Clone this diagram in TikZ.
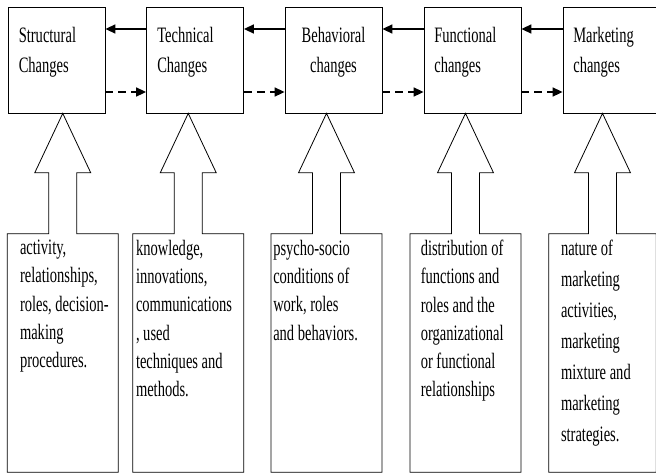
\documentclass[tikz,border=0pt]{standalone}
\usepackage{fontspec}
\setmainfont{Liberation Serif}[FakeStretch=0.66]
\usepackage{tikz}
\usetikzlibrary{arrows.meta}

\begin{document}
\begin{tikzpicture}[x=1pt, y=-1pt,
    cbox/.style={draw, line width=0.8pt, minimum width=97pt, minimum height=106pt, inner sep=0pt},
    dbox/.style={minimum width=110.5pt, minimum height=238pt, inner sep=0pt},
    ctext/.style={anchor=north west, inner sep=0pt, align=left, font=\fontsize{22}{30.5}\selectfont},
    dtext/.style={anchor=north west, inner sep=0pt, align=left, font=\fontsize{22}{28.3}\selectfont},
    back/.style={line width=1.6pt, -{Triangle[length=10pt,width=9pt]}},
    fwd/.style={line width=1.6pt, dash pattern=on 8pt off 5pt, -{Triangle[length=10pt,width=9pt]}}]
    \useasboundingbox (0,0) rectangle (656,474);

    % the five kinds of change
    \node[cbox] (c1) at (56.5,60) {};
    \node[cbox] (c2) at (195,60) {};
    \node[cbox] (c3) at (333.5,60) {};
    \node[cbox] (c4) at (472.5,60) {};
    \node[cbox] (c5) at (611.5,60) {};

    \node[ctext] (t1) at ([xshift=11pt,yshift=-20pt]c1.north west) {Structural\\Changes};
    \node[ctext] (t2) at ([xshift=11pt,yshift=-20pt]c2.north west) {Technical\\Changes};
    \node[ctext, anchor=north, align=center] (t3) at ([yshift=-20pt]c3.north) {Behavioral\\changes};
    \node[ctext] (t4) at ([xshift=10.5pt,yshift=-20pt]c4.north west) {Functional\\changes};
    \node[ctext] (t5) at ([xshift=10.5pt,yshift=-20pt]c5.north west) {Marketing\\changes};

    % what each one touches
    \node[dbox] (d1) at (62.75,353) {};
    \node[dbox] (d2) at (188.25,353) {};
    \node[dbox] (d3) at (326.5,353) {};
    \node[dbox] (d4) at (465.5,353) {};
    \node[dbox, minimum width=107pt] (d5) at (602.5,353) {};

    \node[dtext] (s1) at ([xshift=12.5pt,yshift=-6pt]d1.north west) {activity,\\relationships,\\roles, decision-\\making\\procedures.};
    \node[dtext] (s2) at ([xshift=3pt,yshift=-6pt]d2.north west) {knowledge,\\innovations,\\communications\\, used\\techniques and\\methods.};
    \node[dtext] (s3) at ([xshift=2pt,yshift=-6pt]d3.north west) {psycho-socio\\conditions of\\work, roles\\and behaviors.};
    \node[dtext] (s4) at ([xshift=10.5pt,yshift=-6pt]d4.north west) {distribution of\\functions and\\roles and the\\organizational\\or functional\\relationships};
    \node[dtext, font=\fontsize{22}{31}\selectfont] (s5) at ([xshift=12pt,yshift=-6pt]d5.north west) {nature of\\marketing\\activities,\\marketing\\mixture and\\marketing\\strategies.};

    % block arrows up into the boxes
    \foreach \i in {1,...,5}
      \draw[line width=0.8pt] (d\i.north west) -- ([xshift=-14pt]d\i.north) -- ++(0pt,61pt) -- ++(-14pt,0pt)
        -- (d\i.north |- c\i.south) -- ([xshift=28pt,yshift=61pt]d\i.north) -- ++(-14pt,0pt)
        -- ([xshift=14pt]d\i.north) -- (d\i.north east) -- (d\i.south east) -- (d\i.south west) -- cycle;

    \draw[back] ([yshift=31pt]c2.west) -- ([yshift=31pt]c1.east);
    \draw[back] ([yshift=31pt]c3.west) -- ([yshift=31pt]c2.east);
    \draw[back] ([yshift=31pt]c4.west) -- ([yshift=31pt]c3.east);
    \draw[back] ([yshift=31pt]c5.west) -- ([yshift=31pt]c4.east);

    \draw[fwd] ([yshift=-32pt]c1.east) -- ([yshift=-32pt]c2.west);
    \draw[fwd] ([yshift=-32pt]c2.east) -- ([yshift=-32pt]c3.west);
    \draw[fwd] ([yshift=-32pt]c3.east) -- ([yshift=-32pt]c4.west);
    \draw[fwd] ([yshift=-32pt]c4.east) -- ([yshift=-32pt]c5.west);
\end{tikzpicture}
\end{document}
